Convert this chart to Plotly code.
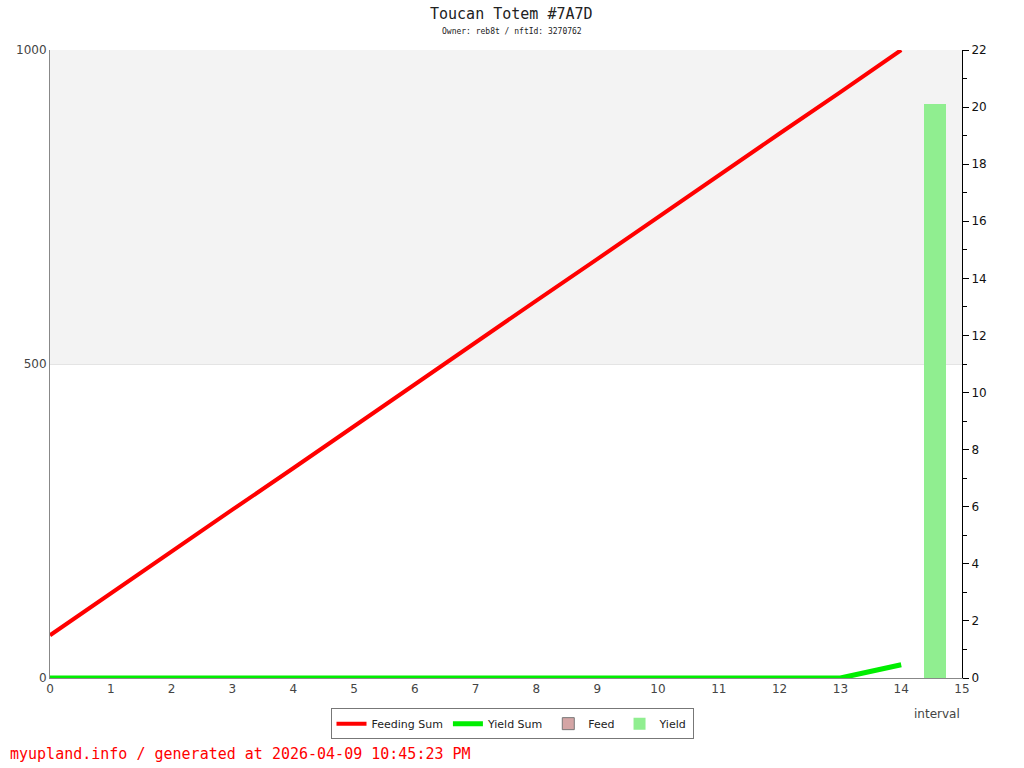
import plotly.graph_objects as go

intervals = list(range(15))
feeding_sum = [68, 135, 201, 268, 334, 401, 467, 534, 601, 667, 734, 800, 867, 933, 1000]
yield_sum = [0, 0, 0, 0, 0, 0, 0, 0, 0, 0, 0, 0, 0, 0, 21]
bar_x = [14.55]
yield_bar = [20.1]
feed_bar = [None]

fig = go.Figure()
fig.add_trace(go.Scatter(x=intervals, y=feeding_sum, mode="lines", name="Feeding Sum",
                         line=dict(color="#ff0000", width=4)))
fig.add_trace(go.Scatter(x=intervals, y=yield_sum, mode="lines", name="Yield Sum",
                         line=dict(color="#00ee00", width=5)))
fig.add_trace(go.Bar(x=[None], y=feed_bar, name="Feed", yaxis="y2",
                     marker=dict(color="#d4a5a5", line=dict(color="#777", width=1))))
fig.add_trace(go.Bar(x=bar_x, y=yield_bar, name="Yield", yaxis="y2", width=0.36,
                     marker=dict(color="#90ee90", line=dict(color="#777", width=0))))

fig.add_shape(type="rect", xref="paper", yref="y", x0=0, x1=1, y0=500, y1=1000,
              fillcolor="#f3f3f3", line=dict(width=0), layer="below")

tickfont = dict(family="DejaVu Sans", size=12, color="#444")
fig.update_layout(
    width=1024, height=768,
    margin=dict(l=50, r=62, t=50, b=90),
    paper_bgcolor="white", plot_bgcolor="white",
    showlegend=True,
    legend=dict(orientation="h", x=(512 - 50) / 912, xanchor="center", y=-0.048, yanchor="top",
                bordercolor="#777", borderwidth=1, font=dict(family="DejaVu Sans", size=11, color="#222"),
                traceorder="normal", itemwidth=30, tracegroupgap=0),
    xaxis=dict(range=[0, 15], dtick=1, tick0=0, showgrid=False, zeroline=False,
               showline=True, linecolor="#888", linewidth=1, ticks="", tickfont=tickfont),
    yaxis=dict(range=[0, 1000], tickvals=[0, 500, 1000], showgrid=True, gridcolor="#e4e4e4",
               zeroline=False, showline=True, linecolor="#888", linewidth=1, ticks="",
               tickfont=tickfont, mirror=False),
    yaxis2=dict(range=[0, 22], dtick=2, overlaying="y", side="right", showgrid=False,
                zeroline=False, showline=True, linecolor="#000", linewidth=1,
                ticks="outside", ticklen=6, tickcolor="#000",
                tickfont=dict(family="DejaVu Sans", size=12, color="#111"),
                minor=dict(dtick=1, ticks="outside", ticklen=4, tickcolor="#000")),
    annotations=[
        dict(text="Toucan Totem #7A7D", xref="paper", yref="paper", x=(512 - 50) / 912, xanchor="center",
             y=(678 - 14) / 628, yanchor="middle", showarrow=False,
             font=dict(family="DejaVu Sans Mono", size=15, color="#222")),
        dict(text="Owner: reb8t / nftId: 3270762", xref="paper", yref="paper", x=(512 - 50) / 912,
             xanchor="center", y=(678 - 31) / 628, yanchor="middle", showarrow=False,
             font=dict(family="DejaVu Sans Mono", size=8, color="#222")),
        dict(text="interval", xref="paper", yref="paper", x=1.0, y=(678 - 714) / 628, xanchor="right",
             yanchor="middle", showarrow=False, font=dict(family="DejaVu Sans", size=12, color="#444")),
        dict(text="myupland.info / generated at 2026-04-09 10:45:23 PM", xref="paper", yref="paper",
             x=(8 - 50) / 912, xanchor="left", y=(678 - 754) / 628, yanchor="middle", showarrow=False,
             font=dict(family="DejaVu Sans Mono", size=15, color="#ff0000")),
    ],
    bargap=0,
)

fig.write_html("out.html", config={"displayModeBar": False},
               post_script="document.body.style.margin='0';document.body.style.overflow='hidden';")
